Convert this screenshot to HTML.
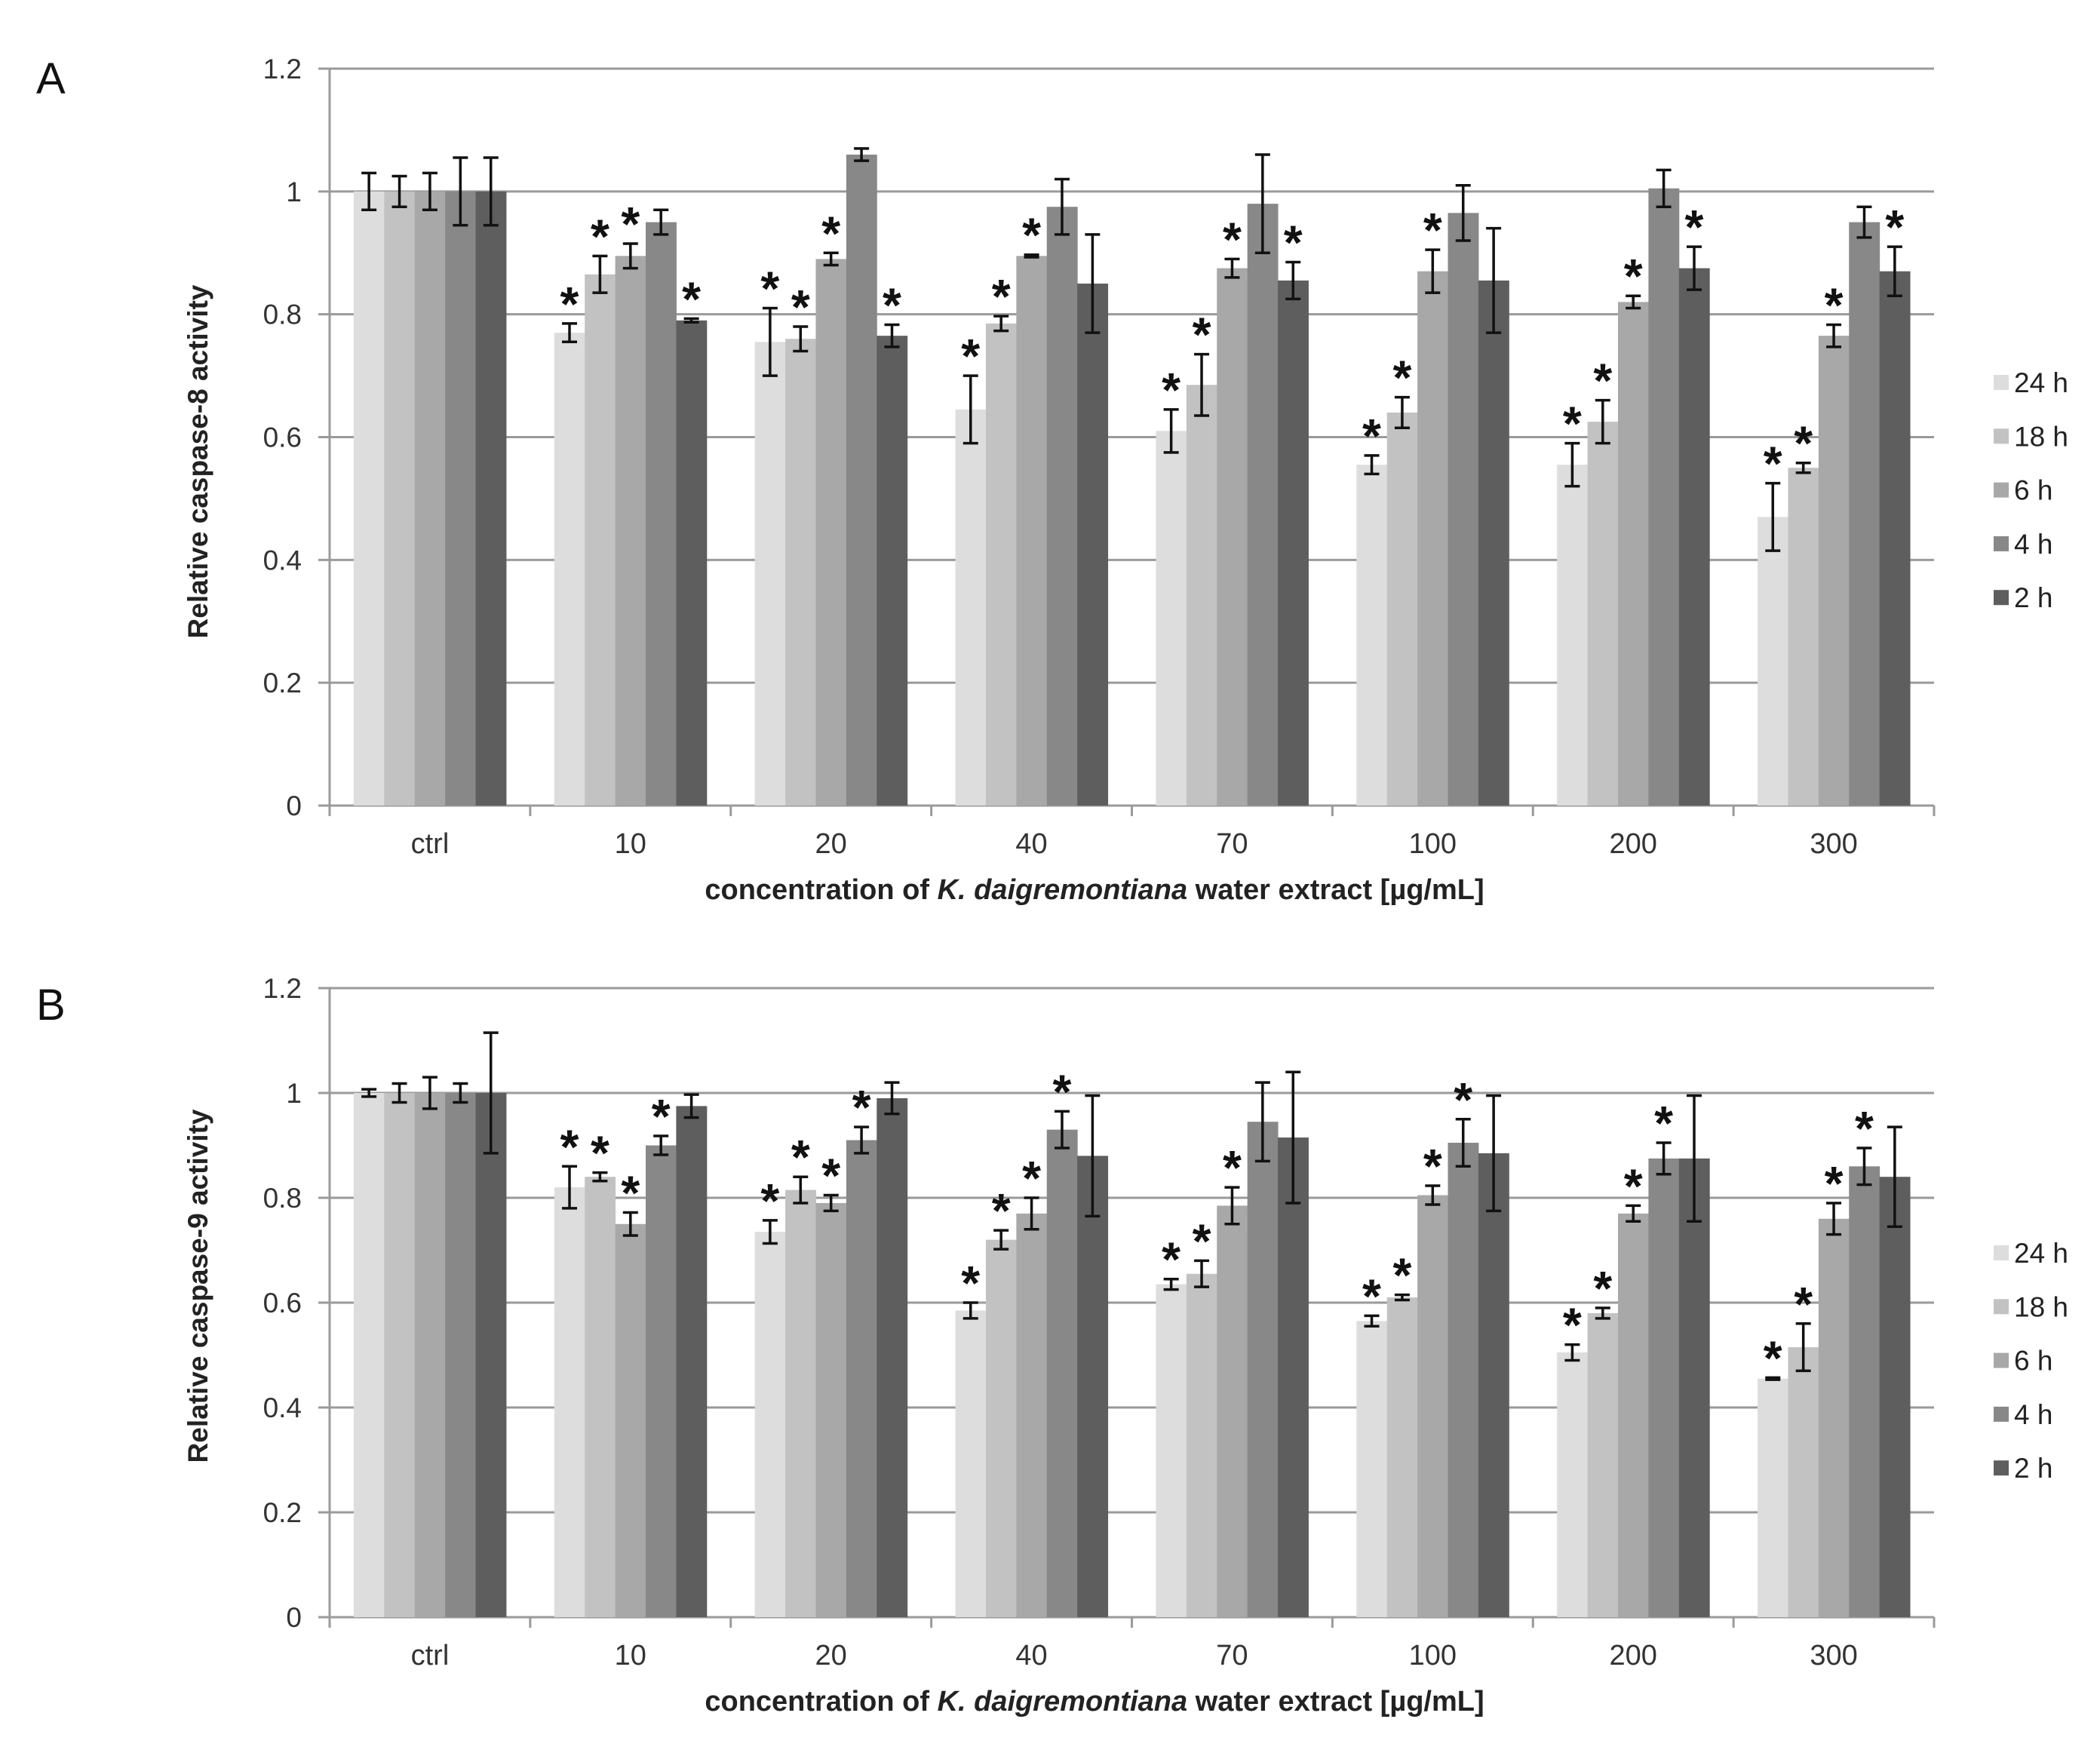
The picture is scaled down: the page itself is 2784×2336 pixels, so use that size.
<!DOCTYPE html>
<html><head><meta charset="utf-8"><style>
html,body{margin:0;padding:0;background:#fff;}
svg{display:block;font-family:"Liberation Sans",Arial,sans-serif;}
</style></head><body>
<svg id="fig" width="2784" height="2336" viewBox="0 0 2784 2336">
</svg>
<script>
const categories = ["ctrl","10","20","40","70","100","200","300"];
const seriesNames = ["24 h","18 h","6 h","4 h","2 h"];
const yTicks = [0,0.2,0.4,0.6,0.8,1,1.2];
const tickLabels = ["0","0.2","0.4","0.6","0.8","1","1.2"];
// Panel A: caspase-8
const a24 = [1,0.77,0.755,0.645,0.61,0.555,0.555,0.47];
const a18 = [1,0.865,0.76,0.785,0.685,0.64,0.625,0.55];
const a6  = [1,0.895,0.89,0.895,0.875,0.87,0.82,0.765];
const a4  = [1,0.95,1.06,0.975,0.98,0.965,1.005,0.95];
const a2  = [1,0.79,0.765,0.85,0.855,0.855,0.875,0.87];
const aErr24 = [0.03,0.015,0.055,0.055,0.035,0.015,0.035,0.055];
const aErr18 = [0.025,0.03,0.02,0.012,0.05,0.025,0.035,0.008];
const aErr6  = [0.03,0.02,0.01,0.002,0.015,0.035,0.01,0.018];
const aErr4  = [0.055,0.02,0.01,0.045,0.08,0.045,0.03,0.025];
const aErr2  = [0.055,0.003,0.018,0.08,0.03,0.085,0.035,0.04];
const aStar24 = [0,1,1,1,1,1,1,1];
const aStar18 = [0,1,1,1,1,1,1,1];
const aStar6  = [0,1,1,1,1,1,1,1];
const aStar4  = [0,0,0,0,0,0,0,0];
const aStar2  = [0,1,1,0,1,0,1,1];
// Panel B: caspase-9
const b24 = [1,0.82,0.735,0.585,0.635,0.565,0.505,0.455];
const b18 = [1,0.84,0.815,0.72,0.655,0.61,0.58,0.515];
const b6  = [1,0.75,0.79,0.77,0.785,0.805,0.77,0.76];
const b4  = [1,0.9,0.91,0.93,0.945,0.905,0.875,0.86];
const b2  = [1,0.975,0.99,0.88,0.915,0.885,0.875,0.84];
const bErr24 = [0.007,0.04,0.022,0.015,0.01,0.01,0.015,0.002];
const bErr18 = [0.018,0.008,0.025,0.018,0.025,0.005,0.01,0.045];
const bErr6  = [0.03,0.022,0.015,0.03,0.035,0.018,0.015,0.03];
const bErr4  = [0.018,0.018,0.025,0.035,0.075,0.045,0.03,0.035];
const bErr2  = [0.115,0.022,0.03,0.115,0.125,0.11,0.12,0.095];
const bStar24 = [0,1,1,1,1,1,1,1];
const bStar18 = [0,1,1,1,1,1,1,1];
const bStar6  = [0,1,1,1,1,1,1,1];
const bStar4  = [0,1,1,1,0,1,1,1];
const bStar2  = [0,0,0,0,0,0,0,0];

const colors = ["#dddddd","#c2c2c2","#a8a8a8","#888888","#5e5e5e"];
const NS = "http://www.w3.org/2000/svg";
const svg = document.getElementById("fig");
function mk(tag, attrs, parent){
  const e = document.createElementNS(NS, tag);
  for (const k in attrs) e.setAttribute(k, attrs[k]);
  (parent||svg).appendChild(e);
  return e;
}

function panel(p){
  const g = mk("g",{});
  
  
  const x0 = 437, x1 = 2564;
  const cw = (x1 - x0) / categories.length;
  const yS = v => p.y0 - (v / 1.2) * (p.y0 - p.yTop);
  const xC = i => x0 + cw * (i + 0.5);
  const bw = 40.4;
  yTicks.forEach((t,i)=>{
    if (t > 0) {
      const l = mk("line",{x1:x0-15,x2:x1,y1:yS(t),y2:yS(t),stroke:"#9a9a9a","stroke-width":3},g);
      
      
    }
    const tx = mk("text",{x:400,y:yS(t)+13,"text-anchor":"end","font-size":37,fill:"#333"},g);
    
    
    tx.textContent = tickLabels[i];
  });
  const ya = mk("line",{x1:x0,x2:x0,y1:p.yTop,y2:p.y0+14,stroke:"#9a9a9a","stroke-width":3},g);
  
  
  const xa = mk("line",{x1:x0-15,x2:x1,y1:p.y0,y2:p.y0,stroke:"#9a9a9a","stroke-width":3},g);
  
  
  for (let i=0;i<=categories.length;i++){
    const tk = mk("line",{x1:x0+cw*i,x2:x0+cw*i,y1:p.y0,y2:p.y0+14,stroke:"#9a9a9a","stroke-width":3},g);
    
    
  }
  categories.forEach((c,i)=>{
    const t = mk("text",{x:xC(i),y:p.y0+63,"text-anchor":"middle","font-size":38,fill:"#333"},g);
    
    
    t.textContent = c;
  });
  p.vals.forEach((ser,s)=>{
    ser.forEach((v,i)=>{
      const bx = xC(i) - 2.5*bw + s*bw;
      const r = mk("rect",{x:bx,y:yS(v),width:bw+0.5,height:p.y0-yS(v),fill:colors[s]},g);
      
      
      const e = p.errs[s][i];
      const cx = bx + bw/2;
      const eg = mk("g",{stroke:"#111","stroke-width":3.5},g);
      
      
      mk("line",{x1:cx,x2:cx,y1:yS(v+e),y2:yS(v-e)},eg);
      mk("line",{x1:cx-10,x2:cx+10,y1:yS(v+e),y2:yS(v+e)},eg);
      mk("line",{x1:cx-10,x2:cx+10,y1:yS(v-e),y2:yS(v-e)},eg);
      if (p.stars[s][i]) {
        const st = mk("text",{x:cx,y:yS(v+e)-4,"text-anchor":"middle","font-size":64,"font-weight":"bold",fill:"#111"},g);
        
        
        st.textContent = "*";
      }
    });
  });
  const yt = mk("text",{x:0,y:0,transform:`translate(${p.ytx},${p.yty}) rotate(-90)`,"text-anchor":"middle","font-size":37,"font-weight":"bold",fill:"#222"},g);
  
  
  yt.textContent = p.ytitle;
  const xt = mk("text",{x:1451,y:p.y0+124,"text-anchor":"middle","font-size":38,"font-weight":"bold",fill:"#222"},g);
  
  
  const t1 = mk("tspan",{},xt); t1.textContent = "concentration of ";
  const t2 = mk("tspan",{"font-style":"italic"},xt); t2.textContent = "K. daigremontiana";
  const t3 = mk("tspan",{},xt); t3.textContent = "  water extract [µg/mL]";
  const pl = mk("text",{x:48,y:p.letterY,"font-size":58,fill:"#111"},g);
  
  
  pl.textContent = p.letter;
  seriesNames.forEach((n,s)=>{
    const ly = p.legY + s*71.3;
    const lg = mk("g",{},g);
    
    
    mk("rect",{x:2643,y:ly-10,width:20,height:20,fill:colors[s]},lg);
    const lt = mk("text",{x:2670,y:ly+13,"font-size":37,fill:"#222"},lg);
    lt.textContent = n;
  });
}

panel({name:"chart-caspase-8",yTop:91,y0:1068,
  vals:[a24,a18,a6,a4,a2],errs:[aErr24,aErr18,aErr6,aErr4,aErr2],
  stars:[aStar24,aStar18,aStar6,aStar4,aStar2],
  ytitle:"Relative caspase-8  activity",ytx:275,yty:612,letter:"A",letterY:124,legY:507});
panel({name:"chart-caspase-9",yTop:1310,y0:2144,
  vals:[b24,b18,b6,b4,b2],errs:[bErr24,bErr18,bErr6,bErr4,bErr2],
  stars:[bStar24,bStar18,bStar6,bStar4,bStar2],
  ytitle:"Relative caspase-9  activity",ytx:275,yty:1705,letter:"B",letterY:1352,legY:1661});
</script>
</body></html>
